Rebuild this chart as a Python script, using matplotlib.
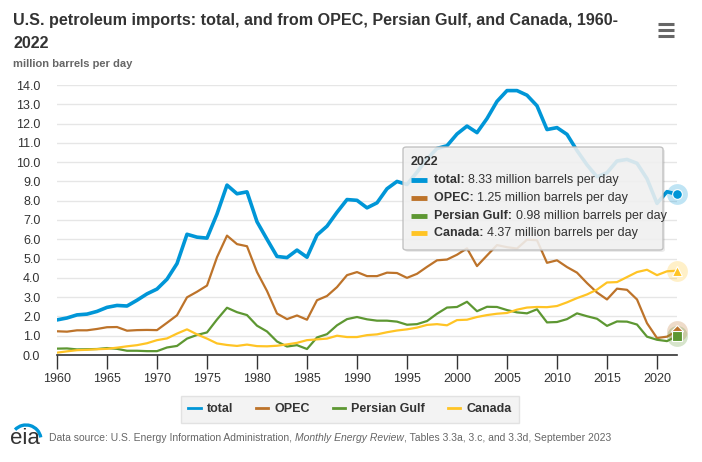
import numpy as np
import matplotlib
matplotlib.use("Agg")
import matplotlib.pyplot as plt
from matplotlib.patches import FancyBboxPatch, Arc
from matplotlib.lines import Line2D

plt.rcParams['font.family'] = ['Liberation Sans', 'DejaVu Sans']

# --- data (million barrels per day) ---
years = list(range(1960, 2023))
total = [1.82, 1.92, 2.08, 2.12, 2.26, 2.47, 2.57, 2.54, 2.84, 3.17,
         3.42, 3.93, 4.74, 6.26, 6.11, 6.06, 7.31, 8.81, 8.36, 8.46,
         6.91, 6.00, 5.11, 5.05, 5.44, 5.07, 6.22, 6.68, 7.40, 8.06,
         8.02, 7.63, 7.89, 8.62, 9.00, 8.84, 9.48, 10.16, 10.71, 10.85,
         11.46, 11.87, 11.53, 12.26, 13.15, 13.71, 13.71, 13.47, 12.92, 11.69,
         11.79, 11.44, 10.60, 9.86, 9.24, 9.45, 10.06, 10.14, 9.94, 9.14,
         7.86, 8.47, 8.33]
opec = [1.23, 1.21, 1.28, 1.28, 1.35, 1.44, 1.45, 1.26, 1.29, 1.30,
        1.29, 1.67, 2.06, 2.99, 3.28, 3.60, 5.07, 6.19, 5.75, 5.64,
        4.30, 3.32, 2.15, 1.86, 2.05, 1.83, 2.84, 3.06, 3.52, 4.14,
        4.30, 4.09, 4.09, 4.27, 4.25, 4.00, 4.21, 4.57, 4.91, 4.95,
        5.20, 5.53, 4.61, 5.16, 5.70, 5.59, 5.52, 5.98, 5.95, 4.78,
        4.91, 4.56, 4.27, 3.73, 3.24, 2.88, 3.44, 3.38, 2.88, 1.65,
        0.88, 0.95, 1.25]
persian_gulf = [0.33, 0.34, 0.29, 0.30, 0.31, 0.36, 0.32, 0.22, 0.22, 0.20,
                0.20, 0.39, 0.47, 0.85, 1.04, 1.17, 1.84, 2.45, 2.22, 2.07,
                1.52, 1.22, 0.70, 0.44, 0.51, 0.31, 0.91, 1.08, 1.54, 1.86,
                1.97, 1.85, 1.78, 1.78, 1.73, 1.57, 1.60, 1.76, 2.14, 2.46,
                2.49, 2.76, 2.27, 2.50, 2.49, 2.33, 2.21, 2.16, 2.37, 1.69,
                1.71, 1.86, 2.16, 2.01, 1.88, 1.51, 1.74, 1.73, 1.58, 0.95,
                0.79, 0.72, 0.98]
canada = [0.12, 0.19, 0.25, 0.27, 0.30, 0.32, 0.38, 0.45, 0.51, 0.61,
          0.77, 0.86, 1.11, 1.33, 1.07, 0.85, 0.60, 0.52, 0.47, 0.54,
          0.46, 0.45, 0.48, 0.55, 0.63, 0.77, 0.81, 0.85, 1.00, 0.93,
          0.93, 1.03, 1.07, 1.18, 1.27, 1.33, 1.42, 1.56, 1.60, 1.54,
          1.81, 1.83, 1.97, 2.07, 2.14, 2.18, 2.35, 2.46, 2.49, 2.48,
          2.54, 2.73, 2.95, 3.14, 3.39, 3.76, 3.78, 4.04, 4.30, 4.42,
          4.14, 4.34, 4.37]

names = ["total", "OPEC", "Persian Gulf", "Canada"]
colors = ["#0096d7", "#bd732a", "#5d9732", "#ffc425"]
widths = [2.6, 1.6, 1.6, 1.6]
markers = ["o", "D", "s", "^"]
series = [total, opec, persian_gulf, canada]

W, H = 702, 462
fig = plt.figure(figsize=(W / 100, H / 100), dpi=100)
fig.patch.set_facecolor("white")


def fx(x):
    return x / W


def fy(y):
    return 1 - y / H


ax = fig.add_axes([fx(57), fy(355), (677 - 57) / W, (355 - 85) / H])
ax.set_xlim(1960, 2022)
ax.set_ylim(0, 14)
ax.set_yticks(np.arange(0, 14.1, 1.0))
ax.set_yticklabels([f"{v:.1f}" for v in np.arange(0, 14.1, 1.0)])
ax.set_xticks(range(1960, 2021, 5))
ax.grid(axis="y", color="#e6e6e6", linewidth=1)
ax.set_axisbelow(True)
for s in ["top", "right", "left"]:
    ax.spines[s].set_visible(False)
ax.spines["bottom"].set_color("#333333")
ax.spines["bottom"].set_linewidth(1.2)
ax.tick_params(axis="y", length=0, labelsize=9, labelcolor="#333333", pad=12)
ax.tick_params(axis="x", length=10, width=1, color="#333333", labelsize=9,
               labelcolor="#333333", pad=3)
ax.set_facecolor("white")

for vals, c, lw, m in zip(series, colors, widths, markers):
    ax.plot(years, vals, color=c, linewidth=lw, solid_joinstyle="round", zorder=3)
    ax.plot([years[-1]], [vals[-1]], marker="o", markersize=15, color=c,
            alpha=0.25, markeredgewidth=0, zorder=4, clip_on=False)
    ax.plot([years[-1]], [vals[-1]], marker=m, markersize=7 if m != "D" else 6,
            color=c, markeredgecolor="white", markeredgewidth=0.8, zorder=5,
            clip_on=False)

# title and subtitle
fig.text(fx(13), fy(20), "U.S. petroleum imports: total, and from OPEC, Persian Gulf, and Canada, 1960-",
         fontsize=11.6, fontweight="bold", color="#333333", va="center")
fig.text(fx(13), fy(43), "2022", fontsize=11.6, fontweight="bold", color="#333333", va="center")
fig.text(fx(13), fy(64), "million barrels per day", fontsize=8, fontweight="bold",
         color="#666666", va="center")

# menu icon
for yy in (24, 30, 36):
    fig.add_artist(Line2D([fx(658), fx(674)], [fy(yy), fy(yy)], color="#666666",
                          linewidth=2.2, solid_capstyle="butt"))

# tooltip
tip = FancyBboxPatch((fx(403), fy(250)), (663 - 403) / W, (250 - 147) / H,
                     boxstyle="round,pad=0,rounding_size=0.005",
                     transform=fig.transFigure, facecolor="#f2f2f2", alpha=0.88,
                     edgecolor="#bbbbbb", linewidth=1, zorder=10)
shadow = FancyBboxPatch((fx(405), fy(252)), (663 - 403) / W, (250 - 147) / H,
                        boxstyle="round,pad=0,rounding_size=0.005",
                        transform=fig.transFigure, facecolor="#000000", alpha=0.08,
                        edgecolor="none", zorder=9)
fig.add_artist(shadow)
fig.add_artist(tip)
fig.text(fx(411), fy(162), "2022", fontsize=9, fontweight="bold", color="#333333",
         va="center", zorder=11)
renderer = fig.canvas.get_renderer()
rows_y = [180, 198, 216, 233]
for name, c, vals, yy in zip(names, colors, series, rows_y):
    fig.add_artist(Line2D([fx(411), fx(427)], [fy(yy), fy(yy)], color=c, linewidth=3.5,
                          solid_capstyle="butt", zorder=11))
    t = fig.text(fx(434), fy(yy), name + ": ", fontsize=9, fontweight="bold",
                 color="#333333", va="center", zorder=11)
    bb = t.get_window_extent(renderer)
    fig.text(bb.x1 / W, fy(yy), f"{vals[-1]:.2f} million barrels per day", fontsize=9,
             color="#333333", va="center", zorder=11)

# legend
handles = [Line2D([0], [0], color=c, linewidth=2) for c in colors]
leg = fig.legend(handles, names, loc="center", bbox_to_anchor=(fx(350), fy(409)),
                 ncol=4, frameon=True, fontsize=9, handlelength=1.0,
                 handletextpad=0.5, columnspacing=1.8, borderpad=0.6,
                 fancybox=False)
leg.get_frame().set_facecolor("#f0f0f0")
leg.get_frame().set_edgecolor("#dddddd")
for txt in leg.get_texts():
    txt.set_fontweight("bold")
    txt.set_color("#333333")

# eia logo and source
fig.text(fx(10), fy(439), "eia", fontsize=16, color="#333333", va="center")
fig.add_artist(Arc((fx(26), fy(440)), 30 / W, 30 / H, theta1=15, theta2=125,
                   transform=fig.transFigure, color="#0096d7", linewidth=2.4))
src = fig.text(fx(49), fy(438), "Data source: U.S. Energy Information Administration, ",
               fontsize=7.5, color="#666666", va="center")
bb = src.get_window_extent(renderer)
it = fig.text(bb.x1 / W, fy(438), "Monthly Energy Review", fontsize=7.5, color="#666666",
              va="center", style="italic")
bb = it.get_window_extent(renderer)
fig.text(bb.x1 / W, fy(438), ", Tables 3.3a, 3.c, and 3.3d, September 2023",
         fontsize=7.5, color="#666666", va="center")

fig.savefig("out.png", dpi=100)
